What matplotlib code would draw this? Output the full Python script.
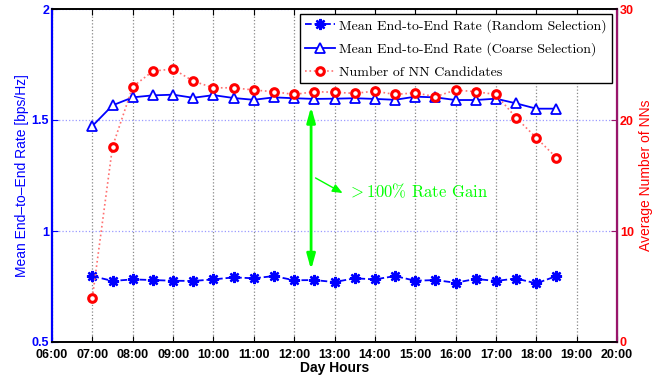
import matplotlib.pyplot as plt
import numpy as np

plt.rcParams['mathtext.fontset'] = 'cm'

# hours of the day, half-hour steps 07:00 .. 18:30
hours = [7.0, 7.5, 8.0, 8.5, 9.0, 9.5, 10.0, 10.5, 11.0, 11.5, 12.0, 12.5,
         13.0, 13.5, 14.0, 14.5, 15.0, 15.5, 16.0, 16.5, 17.0, 17.5, 18.0, 18.5]

rate_random = [0.797, 0.775, 0.782, 0.779, 0.776, 0.775, 0.782, 0.791,
               0.787, 0.797, 0.778, 0.779, 0.770, 0.787, 0.782, 0.797,
               0.776, 0.779, 0.767, 0.784, 0.775, 0.786, 0.764, 0.797]

rate_coarse = [1.473, 1.566, 1.602, 1.611, 1.614, 1.600, 1.612, 1.599,
               1.591, 1.602, 1.598, 1.595, 1.596, 1.598, 1.595, 1.591,
               1.605, 1.602, 1.590, 1.590, 1.596, 1.575, 1.551, 1.551]

nn_count = [4.0, 17.6, 23.0, 24.4, 24.6, 23.5, 22.9, 22.9, 22.7, 22.55,
            22.3, 22.55, 22.5, 22.4, 22.6, 22.3, 22.45, 22.1, 22.7, 22.55,
            22.3, 20.2, 18.4, 16.6]

xticks = np.arange(6, 21)
xlabels = ['%02d:00' % h for h in xticks]

blue = '#0000ff'
red = '#ff0000'
green = '#00ff00'

fig = plt.figure(figsize=(6.66, 3.76), dpi=100)
ax = fig.add_axes([52/666, 34/376, 565/666, 333/376])
ax2 = ax.twinx()

l1, = ax.plot(hours, rate_random, '--', color=blue, lw=1.3,
              marker=(8, 2, 0), ms=8, mew=1.7, mec=blue)
l2, = ax.plot(hours, rate_coarse, '-', color=blue, lw=1.3,
              marker='^', ms=7, mfc='white', mec=blue, mew=1.3)
l3, = ax2.plot(hours, nn_count, ':', color='#ff7070', lw=1.2,
               marker='o', ms=5.5, mfc='white', mec=red, mew=2.2)

ax.set_xlim(6, 20)
ax.set_ylim(0.5, 2)
ax2.set_ylim(0, 30)
ax.set_xticks(xticks)
ax.set_xticklabels(xlabels, fontweight='bold', fontsize=9,
                   family='Liberation Sans')
ax.set_yticks([0.5, 1, 1.5, 2])
ax.set_yticklabels(['0.5', '1', '1.5', '2'], fontweight='bold', fontsize=9,
                   color=blue, family='Liberation Sans')
ax2.set_yticks([0, 10, 20, 30])
ax2.set_yticklabels(['0', '10', '20', '30'], fontweight='bold', fontsize=9,
                    color=red, family='Liberation Sans')

ax.tick_params(axis='x', direction='in', length=4, top=True, pad=5)
ax.tick_params(axis='y', direction='in', length=4, colors=blue,
               labelcolor=blue, pad=2)
ax2.tick_params(axis='y', direction='in', length=4, colors='#99156b',
                labelcolor=red, pad=2)

ax.xaxis.grid(True, ls=':', color='#888888', lw=0.9)
ax.yaxis.grid(True, ls=':', color='#9a9aff', lw=0.9)
ax.set_axisbelow(True)

ax.spines['left'].set_color(blue)
ax.spines['left'].set_linewidth(1.6)
ax2.spines['left'].set_visible(False)
ax2.spines['right'].set_color('#99156b')
ax2.spines['right'].set_linewidth(1.6)
for s in ['top', 'bottom']:
    ax.spines[s].set_linewidth(1.2)
    ax2.spines[s].set_linewidth(1.2)

ax.set_xlabel('Day Hours', fontweight='bold', fontsize=10,
              family='Liberation Sans', labelpad=0)
ax.set_ylabel('Mean End–to–End Rate [bps/Hz]', color=blue, fontsize=10,
              family='Liberation Sans', labelpad=2)
ax2.set_ylabel('Average Number of NNs', color=red, fontsize=10,
               family='Liberation Sans', labelpad=4)

# rate gain arrow
ax.annotate('', xy=(12.42, 1.56), xytext=(12.42, 0.825),
            arrowprops=dict(arrowstyle='<|-|>,head_length=0.9,head_width=0.25',
                            color=green, lw=2, shrinkA=0, shrinkB=0))
ax.annotate('', xy=(13.2, 1.171), xytext=(12.53, 1.239),
            arrowprops=dict(arrowstyle='-|>,head_length=0.6,head_width=0.25',
                            color=green, lw=1, shrinkA=0, shrinkB=0))
ax.text(13.33, 1.18, r'$>$100% Rate Gain', color=green, fontsize=12,
        family='cmr10', va='center', ha='left')

leg = ax2.legend([l1, l2, l3],
                 ['Mean End-to-End Rate (Random Selection)',
                  'Mean End-to-End Rate (Coarse Selection)',
                  'Number of NN Candidates'],
                 loc='upper right', bbox_to_anchor=(0.991, 0.985),
                 prop={'family': 'cmr10', 'size': 10},
                 fancybox=False, framealpha=1, edgecolor='black',
                 handlelength=2.2, borderpad=0.35, labelspacing=0.7,
                 handletextpad=0.3, borderaxespad=0)
leg.get_frame().set_linewidth(1.0)

fig.savefig('out.png', dpi=100)
